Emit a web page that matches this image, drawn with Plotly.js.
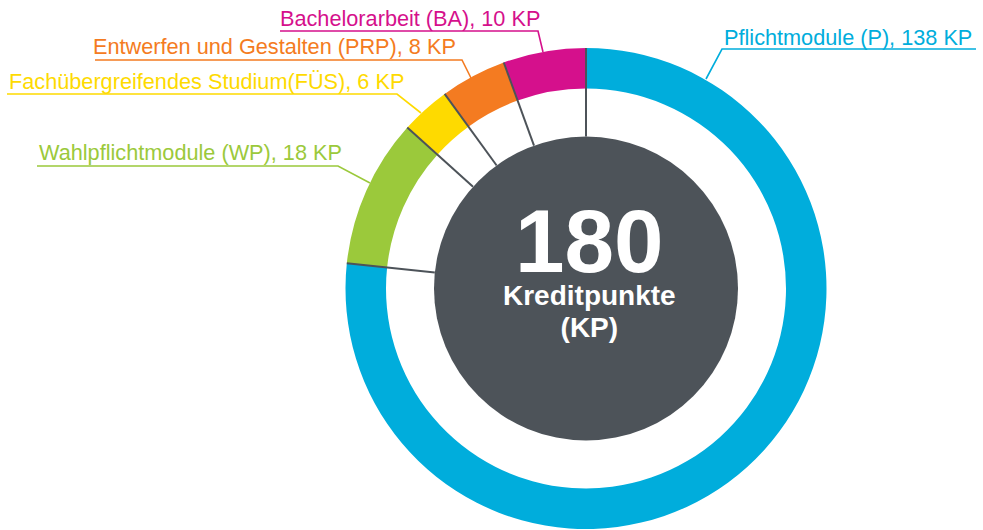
<!DOCTYPE html>
<html>
<head>
<meta charset="utf-8">
<script src="https://cdn.plot.ly/plotly-3.0.1.min.js"></script>
<style>
  html, body { margin: 0; padding: 0; background: #ffffff; }
  #chart { width: 983px; height: 530px; }
</style>
</head>
<body>
<div id="chart"></div>
<script>
// ---- data ----
const categories = [
  "Pflichtmodule (P)",
  "Wahlpflichtmodule (WP)",
  "Fachübergreifendes Studium(FÜS)",
  "Entwerfen und Gestalten (PRP)",
  "Bachelorarbeit (BA)"
];
const credits = [138, 18, 6, 8, 10];
const unit = "KP";
const totalLabel = "Kreditpunkte";
const totalUnit = "(KP)";
const colors = ["#00ADDC", "#9BC93B", "#FEDA00", "#F47B21", "#D5108C"];

// ---- geometry (pixels) ----
const W = 983, H = 530;
const cx = 586, cy = 288.5;
const rOuter = 240.5, rInner = 200, rCenter = 152;
const px = x => x / W;
const py = y => 1 - y / H;

const total = credits.reduce((a, b) => a + b, 0);

// label positions + leader/underline geometry (layout only)
const labelPos = [
  {x: 722, y: 37.5, line: [[976, 49], [722, 49], [706, 79]]},
  {x: 36.5, y: 152.5, line: [[37, 166], [338, 166], [370, 183]]},
  {x: 7, y: 81.5, line: [[7, 94], [397, 94], [421, 113]]},
  {x: 90.5, y: 47, line: [[95, 60], [462, 60], [471, 78]]},
  {x: 278, y: 18.5, line: [[280, 31], [538, 31], [543, 52]]}
];
const font = '"Liberation Sans", Arial, "DejaVu Sans", sans-serif';

const trace = {
  type: "pie",
  values: credits,
  labels: categories,
  sort: false,
  direction: "clockwise",
  rotation: 0,
  hole: rInner / rOuter,
  textinfo: "none",
  hoverinfo: "label+value",
  marker: {colors: colors, line: {width: 0}},
  domain: {
    x: [px(cx - rOuter), px(cx + rOuter)],
    y: [py(cy + rOuter), py(cy - rOuter)]
  },
  showlegend: false
};

const shapes = [];
// center disc
shapes.push({
  type: "circle", xref: "paper", yref: "paper",
  x0: px(cx - rCenter), x1: px(cx + rCenter),
  y0: py(cy + rCenter), y1: py(cy - rCenter),
  fillcolor: "#4D5359", line: {width: 0}, layer: "above"
});
// radial separator lines at slice boundaries (from data)
let cum = 0;
credits.forEach(v => {
  const a = cum / total * 2 * Math.PI;
  const sx = Math.sin(a), sy = -Math.cos(a);
  shapes.push({
    type: "line", xref: "paper", yref: "paper",
    x0: px(cx + rCenter * sx), y0: py(cy + rCenter * sy),
    x1: px(cx + rOuter * sx), y1: py(cy + rOuter * sy),
    line: {color: "#4D5359", width: 2}, layer: "above"
  });
  cum += v;
});
// leader lines
labelPos.forEach((lp, i) => {
  const pts = lp.line;
  const path = "M" + pts.map(p => px(p[0]) + "," + py(p[1])).join(" L");
  shapes.push({
    type: "path", xref: "paper", yref: "paper", path: path,
    line: {color: colors[i], width: 1.6}, layer: "above"
  });
});

const annotations = [];
categories.forEach((c, i) => {
  annotations.push({
    xref: "paper", yref: "paper",
    x: px(labelPos[i].x), y: py(labelPos[i].y),
    xanchor: "left", yanchor: "middle",
    text: c + ", " + credits[i] + " " + unit,
    showarrow: false,
    font: {family: font, size: 21.7, color: colors[i]}
  });
});
// centre text block (one text, three lines)
annotations.push({
  xref: "paper", yref: "paper", x: px(589), y: py(267),
  xanchor: "center", yanchor: "middle", showarrow: false,
  align: "center", borderpad: 0,
  text: "<span style='font-size:89px'><b>" + total + "</b></span>" +
        "<br><span style='font-size:28px'><b>" + totalLabel + "</b></span>" +
        "<br><span style='font-size:28px'><b>" + totalUnit + "</b></span>",
  font: {family: font, size: 25, color: "#ffffff"}
});

const layout = {
  width: W, height: H,
  margin: {l: 0, r: 0, t: 0, b: 0, pad: 0},
  paper_bgcolor: "#ffffff",
  plot_bgcolor: "#ffffff",
  showlegend: false,
  shapes: shapes,
  annotations: annotations
};

Plotly.newPlot("chart", [trace], layout, {displayModeBar: false, staticPlot: true});
</script>
</body>
</html>
